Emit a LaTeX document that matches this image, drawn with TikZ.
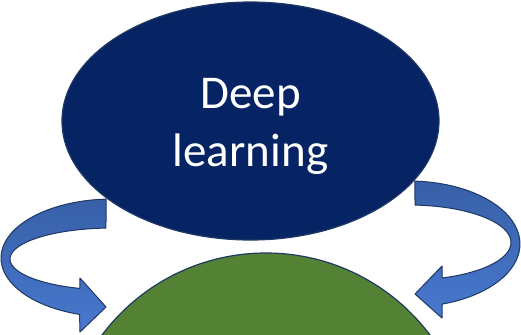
\documentclass[tikz,border=0pt]{standalone}
\usepackage{fontspec}
\setmainfont{Carlito}
\usepackage{tikz}
\usetikzlibrary{shapes.geometric,calc}
\definecolor{deepnavy}{RGB}{6,36,100}
\definecolor{edgenavy}{RGB}{31,56,100}
\definecolor{leafgreen}{RGB}{84,130,53}
\definecolor{bandtop}{RGB}{56,96,168}
\definecolor{bandlow}{RGB}{72,120,206}

\begin{document}
\begin{tikzpicture}[
  x=0.5pt, y=-0.5pt,
  topic/.style={ellipse, draw=edgenavy, fill=deepnavy, line width=0.6pt,
    minimum width=188.5pt, minimum height=119pt, inner sep=0pt},
  topictext/.style={font=\fontsize{23.5}{29}\selectfont, text=white,
    align=center, inner sep=0pt},
  base/.style={circle, draw=edgenavy, fill=leafgreen, line width=0.6pt,
    minimum size=205pt, inner sep=0pt},
  band/.style={draw=edgenavy, line width=0.5pt, line join=round,
    top color=bandtop, bottom color=bandlow},
]
  \useasboundingbox (0,0) rectangle (521,334);
  \clip (0,0) rectangle (521,334);

  \node[base] (ml) at (266,458) {};
  \node[topic] (dl) at (250.5,121) {};
  \node[topictext] (dllabel) at ($(dl.center)+(0,5)$) {Deep\\learning};

  % left turn arrow
  \path[band] plot[domain=93:253, variable=\t, samples=40]
      ({112+111*cos(\t)}, {258-59*sin(\t)})
    -- (80,332) -- (106,307) -- (80,278)
    -- plot[domain=251.7:93.4, variable=\t, samples=40]
      ({112+102*cos(\t)}, {259-31*sin(\t)})
    -- cycle;

  % right turn arrow
  \path[band] plot[domain=87:-72.7, variable=\t, samples=40]
      ({409+111*cos(\t)}, {244-63*sin(\t)})
    -- (442,318) -- (415,294) -- (442,266)
    -- plot[domain=-71.1:86.6, variable=\t, samples=40]
      ({409+102*cos(\t)}, {242.5-37.5*sin(\t)})
    -- cycle;
\end{tikzpicture}
\end{document}
